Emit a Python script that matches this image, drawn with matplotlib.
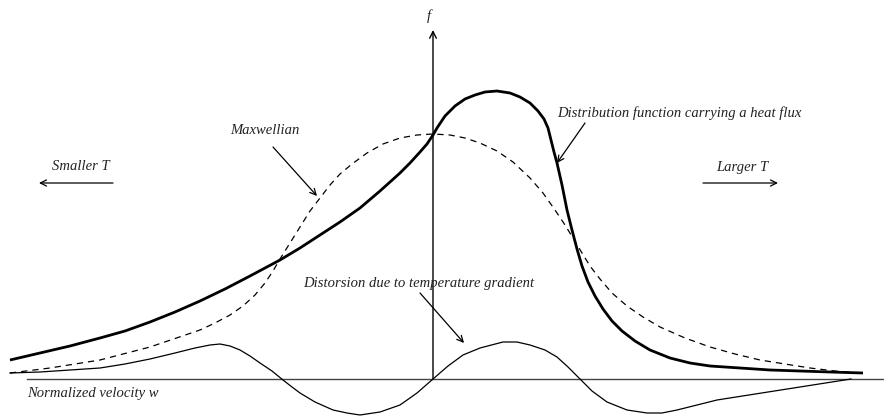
import matplotlib.pyplot as plt

# sketch coordinates: x to the right, y downwards (page units)
heat_x = [10, 40, 70, 100, 125, 150, 175, 200, 225, 250, 280, 300, 320, 340, 360, 380,
          400, 410, 420, 427, 433, 437, 445, 455, 465, 475, 485, 497, 510, 520, 530, 538,
          544, 548, 551, 554, 557, 562, 567, 572, 577, 582, 588, 595, 603, 612, 622, 635,
          650, 670, 690, 710, 740, 770, 800, 830, 863]
heat_y = [360, 353, 346, 338, 331, 322, 312, 301, 289, 276, 260, 248, 235, 222, 208, 191,
          173, 163, 152, 144, 135, 128, 116, 106, 99, 95, 92, 91, 93, 97, 103, 111,
          119, 128, 140, 152, 163, 185, 210, 230, 249, 266, 282, 296, 309, 321, 331, 341,
          350, 358, 363, 366, 368, 370, 371, 372, 373]

maxw_x = [10, 50, 100, 150, 200, 215, 230, 243, 255, 265, 273, 280, 290, 300, 310, 320,
          330, 340, 352, 367, 383, 400, 417, 433, 450, 465, 480, 497, 513, 530, 543, 555,
          565, 573, 582, 590, 600, 612, 627, 643, 660, 685, 710, 735, 760, 785, 810, 835,
          860]
maxw_y = [373, 368, 360, 347, 330, 323, 315, 306, 295, 283, 271, 259, 243, 227, 211, 198,
          185, 174, 164, 153, 144, 138, 135, 134, 135, 138, 143, 151, 162, 178, 193, 210,
          225, 238, 253, 266, 279, 293, 306, 317, 327, 338, 347, 354, 360, 364, 368, 371,
          373]

dist_x = [10, 40, 70, 100, 125, 150, 175, 195, 210, 220, 230, 240, 250, 260, 272, 283,
          292, 300, 315, 333, 347, 360, 380, 400, 417, 433, 448, 463, 480, 503, 517, 530,
          545, 557, 568, 580, 592, 607, 627, 647, 662, 677, 717, 851]
dist_y = [373, 372, 370, 368, 364, 359, 353, 348, 345, 344, 346, 350, 356, 363, 371, 380,
          387, 393, 402, 410, 413, 415, 412, 405, 393, 379, 366, 355, 348, 342, 342, 345,
          350, 357, 367, 379, 391, 402, 410, 413, 413, 410, 400, 379]

labels = ["Smaller T", "Larger T", "Maxwellian",
          "Distribution function carrying a heat flux",
          "Distorsion due to temperature gradient", "Normalized velocity w", "f"]

fig = plt.figure(figsize=(8.84, 4.16), dpi=100)
ax = fig.add_axes([0, 0, 1, 1])
ax.set_xlim(0, 884)
ax.set_ylim(416, 0)
ax.axis("off")

# axes of the sketch
ax.plot([27, 884], [379, 379], color="#444444", lw=1.0)
ax.annotate("", xy=(433, 30), xytext=(433, 379),
            arrowprops=dict(arrowstyle="->", lw=1.0, color="black",
                            mutation_scale=12, shrinkA=0, shrinkB=0))

ax.plot(maxw_x, maxw_y, color="black", lw=0.9, ls=(0, (5, 4)))
ax.plot(heat_x, heat_y, color="black", lw=2.0, solid_capstyle="butt",
        solid_joinstyle="round")
ax.plot(dist_x, dist_y, color="black", lw=0.9, solid_joinstyle="round")

font = dict(family="Liberation Serif", style="italic", fontsize=10.5, color="#222222")
arrow = dict(arrowstyle="->", lw=0.9, color="black", mutation_scale=11,
             shrinkA=0, shrinkB=0)

ax.annotate("", xy=(39, 183), xytext=(113, 183), arrowprops=arrow)
ax.text(81, 167, labels[0], ha="center", va="center", **font)
ax.annotate("", xy=(778, 183), xytext=(703, 183), arrowprops=arrow)
ax.text(742, 167, labels[1], ha="center", va="center", **font)

ax.text(265, 130, labels[2], ha="center", va="center", **font)
ax.annotate("", xy=(317, 196), xytext=(273, 147), arrowprops=arrow)

ax.text(557, 113, labels[3], ha="left", va="center", **font)
ax.annotate("", xy=(557, 163), xytext=(585, 123), arrowprops=arrow)

ax.text(303, 283, labels[4], ha="left", va="center", **font)
ax.annotate("", xy=(464, 343), xytext=(420, 293), arrowprops=arrow)

ax.text(27, 393, labels[5], ha="left", va="center", **font)
ax.text(429, 16, labels[6], ha="center", va="center", **font)

fig.savefig("out.png", dpi=100)
